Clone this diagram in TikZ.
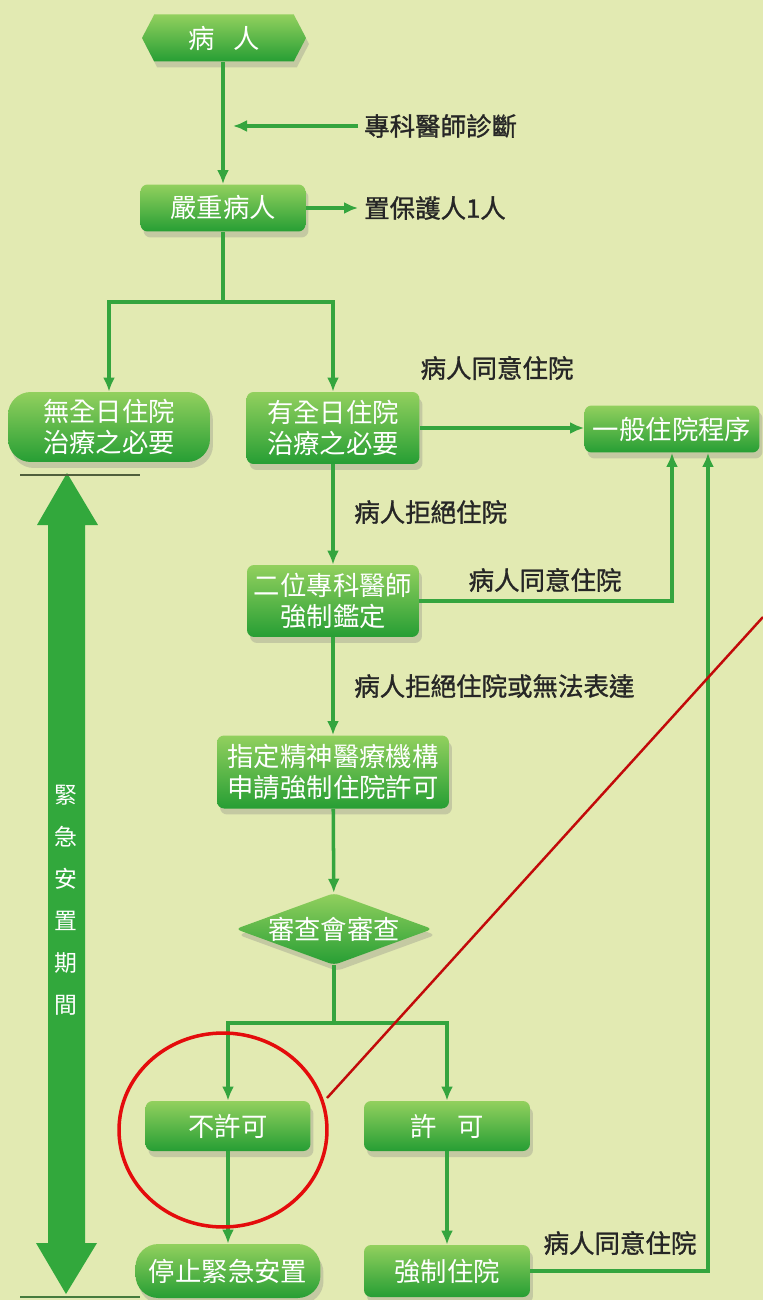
\documentclass[tikz,border=0pt]{standalone}
\usepackage{fontspec}
\newfontfamily\cjk{Noto Sans CJK TC}
\newfontfamily\cjkb[FakeBold=1.2]{Noto Sans CJK TC}
\usetikzlibrary{shapes.geometric,shapes.symbols,shadows,arrows.meta,calc}
\definecolor{bg}{RGB}{226,234,178}
\definecolor{gline}{RGB}{52,165,62}
\definecolor{gtop}{RGB}{146,208,94}
\definecolor{gbot}{RGB}{38,158,52}
\definecolor{olivec}{RGB}{80,95,60}
\definecolor{redc}{RGB}{228,12,12}
\definecolor{atop}{RGB}{50,168,60}
\definecolor{amid}{RGB}{125,196,76}
\tikzset{
  box/.style={rounded corners=4pt, top color=gtop, bottom color=gbot, draw=none,
    text=white, font=\cjk\fontsize{15}{17.5}\selectfont, align=center, inner sep=0pt,
    drop shadow={opacity=0.3, shadow xshift=0.6mm, shadow yshift=-1.2mm}},
  pill/.style={box, rounded corners=13pt},
  conn/.style={draw=gline, line width=2pt},
  arr/.style={conn, -{Latex[length=2.8mm,width=2.4mm]}},
  lbl/.style={font=\cjkb\fontsize{14.5}{17}\selectfont, text=black!85},
}
\begin{document}
\begin{tikzpicture}[x=0.02cm,y=-0.02cm]
\fill[bg] (0,0) rectangle (763,1300);
\useasboundingbox (0,0) rectangle (763,1300);

% big double arrow
\shade[top color=atop, middle color=amid, bottom color=atop]
  (67,473) -- (98,525) -- (85,525) -- (85,1243) -- (97,1243) -- (66,1294)
  -- (36,1243) -- (48,1243) -- (48,525) -- (37,525) -- cycle;
\node[font=\cjk\fontsize{13}{23.9}\selectfont, text=white, align=center] (vt) at (66,900)
  {緊\\急\\安\\置\\期\\間};
\coordinate (ha) at (20,475); \coordinate (hb) at (140,475);
\coordinate (hc) at (20,1297); \coordinate (hd) at (140,1297);
\draw[olivec, line width=1.2pt] (ha) -- (hb);
\draw[olivec!60!gline, line width=1.2pt] (hc) -- (hd);

% nodes
\node[signal, signal to=west and east, signal pointer angle=125, minimum width=3.28cm,
  minimum height=0.94cm, top color=gtop, bottom color=gbot, draw=none, text=white,
  font=\cjk\fontsize{15}{17.5}\selectfont, inner sep=0pt,
  drop shadow={opacity=0.3, shadow xshift=0.6mm, shadow yshift=-1.2mm}] (p) at (224,38) {病\hspace{0.7em}人};
\node[box, minimum width=3.3cm, minimum height=0.94cm] (s) at (223,208) {嚴重病人};
\node[pill, minimum width=4.04cm, minimum height=1.4cm] (n1) at (109,427) {無全日住院\\治療之必要};
\node[box, minimum width=3.46cm, minimum height=1.44cm] (h) at (333,428) {有全日住院\\治療之必要};
\node[box, minimum width=3.5cm, minimum height=0.94cm] (g) at (672,429) {一般住院程序};
\node[box, minimum width=3.44cm, minimum height=1.44cm] (e) at (333,601) {二位專科醫師\\強制鑑定};
\node[box, minimum width=4.64cm, minimum height=1.46cm] (a) at (333,772) {指定精神醫療機構\\申請強制住院許可};
\node[diamond, minimum width=3.94cm, minimum height=1.44cm, inner sep=0pt, top color=gtop,
  bottom color=gbot, draw=none, rounded corners=3pt,
  drop shadow={opacity=0.3, shadow xshift=0.6mm, shadow yshift=-1.2mm}] (rv) at (334,929) {};
\node[text=white, font=\cjk\fontsize{15}{17.5}\selectfont] (rvt) at (rv) {審查會審查};
\node[box, minimum width=3.3cm, minimum height=1.0cm] (np) at (228,1126) {不許可};
\node[box, minimum width=3.32cm, minimum height=1.0cm] (ok) at (447,1126) {許\hspace{0.8em}可};
\node[pill, minimum width=3.7cm, minimum height=1.08cm] (st) at (228,1271) {停止緊急安置};
\node[box, minimum width=3.32cm, minimum height=1.04cm] (f) at (447,1271) {強制住院};

% labels
\node[lbl, anchor=west] (t1) at (358,126) {專科醫師診斷};
\node[lbl, anchor=west] (t2) at (358,208) {置保護人1人};
\node[lbl] (l1) at (497,368) {病人同意住院};
\node[lbl, anchor=west] (l2) at (348,512) {病人拒絕住院};
\node[lbl] (l3) at (545,580) {病人同意住院};
\node[lbl, anchor=west] (l4) at (348,686) {病人拒絕住院或無法表達};
\node[lbl] (l5) at (620,1243) {病人同意住院};

% connectors
\coordinate (dj) at (233,126);
\coordinate (b1) at (223,302);
\coordinate (b2) at (334,1023);
\draw[arr] (p.south -| s.north) -- (s.north);
\draw[arr] (t1.west) -- (dj);
\draw[arr] (s.east) -- (t2.west);
\draw[conn] (s.south) -- (b1);
\draw[arr] (b1) -| (n1.north);
\draw[arr] (b1) -| (h.north);
\draw[arr] (h.east) -- (h.east -| g.west);
\draw[arr] (h) -- (e);
\draw[arr] (e.east) -| (g.south);
\draw[arr] (e) -- (a);
\draw[arr] (a) -- (rv);
\draw[conn] (rv.south) -- (b2);
\draw[arr] (b2) -| (np.north);
\draw[arr] (b2) -| (ok.north);
\draw[arr] (np) -- (st);
\draw[arr] (ok) -- (f);
\draw[arr] (f.east) -| ([xshift=0.72cm]g.south);

% red annotation
\coordinate (r0) at (223,1130);
\coordinate (r1) at (327,1098);
\coordinate (r2) at (763,617);
\draw[redc, line width=2pt] (r0) ellipse [x radius=2.08cm, y radius=1.94cm];
\draw[redc!85!black, line width=1.4pt] (r1) -- (r2);
\end{tikzpicture}
\end{document}
